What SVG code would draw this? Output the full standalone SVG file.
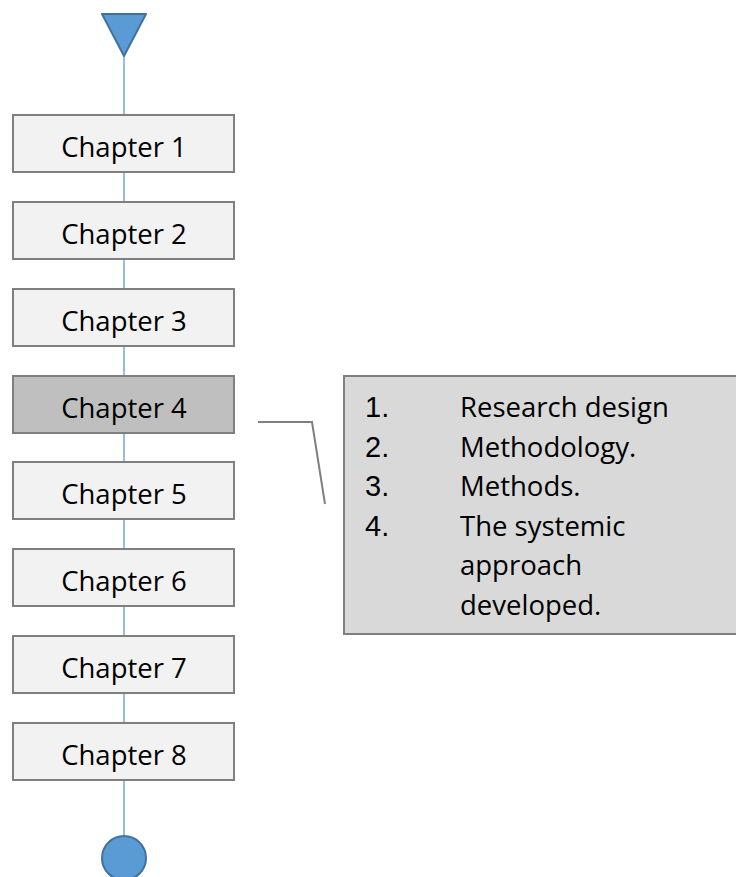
<svg xmlns="http://www.w3.org/2000/svg" width="736" height="877" viewBox="0 0 736 877">
<style>
.box{fill:#f2f2f2;stroke:#7f7f7f;stroke-width:2}
.sel{fill:#bfbfbf}
.lbl{font-family:"Open Sans","Liberation Sans",sans-serif;font-size:27.5px;fill:#000;text-anchor:middle}
.item{font-family:"Open Sans","Liberation Sans",sans-serif;font-size:27.5px;fill:#000}
.num{font-family:"Liberation Sans",Arial,sans-serif;font-size:29px;fill:#000}
.conn{stroke:#5b9bd5;stroke-width:1.3;fill:none}
</style>
<rect width="736" height="877" fill="#ffffff"/>
<g id="connectors">
<line class="conn" x1="124" y1="56" x2="124" y2="836"/>
<polyline points="258,422 312,422 325,504" fill="none" stroke="#7f7f7f" stroke-width="2"/>
</g>
<g id="start"><polygon points="102,14 146,14 124,56" fill="#5b9bd5" stroke="#41719c" stroke-width="2" stroke-linejoin="round"/></g>
<g id="ch1"><rect class="box" x="13" y="115" width="221" height="57"/><text class="lbl" x="124" y="156.5">Chapter 1</text></g>
<g id="ch2"><rect class="box" x="13" y="202" width="221" height="57"/><text class="lbl" x="124" y="243.5">Chapter 2</text></g>
<g id="ch3"><rect class="box" x="13" y="289" width="221" height="57"/><text class="lbl" x="124" y="330.5">Chapter 3</text></g>
<g id="ch4"><rect class="box sel" x="13" y="376" width="221" height="57"/><text class="lbl" x="124" y="417.5">Chapter 4</text></g>
<g id="ch5"><rect class="box" x="13" y="462" width="221" height="57"/><text class="lbl" x="124" y="503.5">Chapter 5</text></g>
<g id="ch6"><rect class="box" x="13" y="549" width="221" height="57"/><text class="lbl" x="124" y="590.5">Chapter 6</text></g>
<g id="ch7"><rect class="box" x="13" y="636" width="221" height="57"/><text class="lbl" x="124" y="677.5">Chapter 7</text></g>
<g id="ch8"><rect class="box" x="13" y="723" width="221" height="57"/><text class="lbl" x="124" y="764.5">Chapter 8</text></g>
<g id="end"><circle cx="124" cy="858" r="22" fill="#5b9bd5" stroke="#41719c" stroke-width="2"/></g>
<g id="callout">
<rect x="344" y="376" width="420" height="258" fill="#d9d9d9" stroke="#7f7f7f" stroke-width="2"/>
<text class="num" x="365" y="417">1.</text>
<text class="num" x="365" y="456.5">2.</text>
<text class="num" x="365" y="496">3.</text>
<text class="num" x="365" y="535.5">4.</text>
<text class="item" x="460" y="417">Research design</text>
<text class="item" x="460" y="456.5">Methodology.</text>
<text class="item" x="460" y="496">Methods.</text>
<text class="item" x="460" y="535.5">The systemic</text>
<text class="item" x="460" y="575">approach</text>
<text class="item" x="460" y="614.5">developed.</text>
</g>
</svg>
